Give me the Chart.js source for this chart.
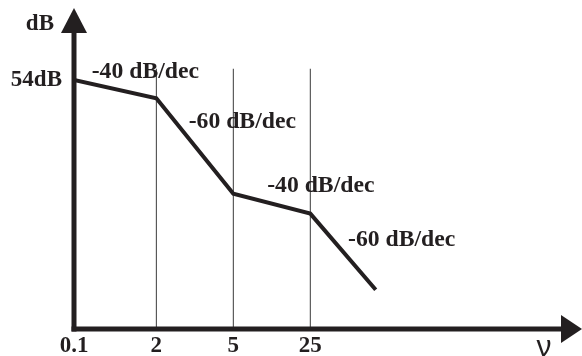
<!DOCTYPE html>
<html>
<head>
<meta charset="utf-8">
<script src="https://cdn.jsdelivr.net/npm/chart.js@4"></script>
<style>
  html, body { margin: 0; padding: 0; background: #fff; }
</style>
</head>
<body>
<canvas id="bode" width="582" height="356"></canvas>
<script>
'use strict';

// Asymptotic Bode magnitude sketch. Corners are evenly spread on the drawing,
// not on a true log axis, so freqPos holds where each corner sits on the sketch.
const freqLabels = ['0.1', '2', '5', '25'];
const freqPos = [0, 1.07, 2.07, 3.07];
const magDb = [54, 50, 29.3, 25];
const tailPos = 3.92;
const tailDb = 8.5;
const markerTopDb = 56.4;
const slopeLabels = ['-40 dB/dec', '-60 dB/dec', '-40 dB/dec', '-60 dB/dec'];
const yTickValues = [54];
const yTickLabels = ['54dB'];

const INK = '#231f20';
const SERIF = '"Liberation Serif", "Times New Roman", serif';

// where each slope label sits (left edge, vertical centre) in data units
const slopeLabelAt = [[0.23, 55.6], [1.49, 44.9], [2.51, 31.0], [3.56, 19.3]];

const magnitude = freqPos.map((x, i) => ({ x, y: magDb[i] }));
magnitude.push({ x: tailPos, y: tailDb });

const markers = freqPos.slice(1).map(x => ({
  label: 'corner',
  data: [{ x, y: 0 }, { x, y: markerTopDb }],
  borderColor: '#3a3a3a',
  borderWidth: 1,
  pointRadius: 0,
}));

// ── axes with arrow heads + text annotations ────────────────────────────────
const sketchPlugin = {
  id: 'sketch',
  afterDatasetsDraw(chart) {
    const { ctx, chartArea: a, scales } = chart;
    const xs = scales.x;
    const ys = scales.y;
    ctx.save();
    ctx.strokeStyle = INK;
    ctx.fillStyle = INK;
    ctx.lineWidth = 5;
    ctx.lineCap = 'butt';

    // y axis
    ctx.beginPath();
    ctx.moveTo(a.left, a.bottom + 2.5);
    ctx.lineTo(a.left, a.top + 26);
    ctx.stroke();
    ctx.beginPath();
    ctx.moveTo(a.left, a.top + 2);
    ctx.lineTo(a.left - 13, a.top + 27);
    ctx.lineTo(a.left + 13, a.top + 27);
    ctx.closePath();
    ctx.fill();

    // x axis
    ctx.beginPath();
    ctx.moveTo(a.left - 2.5, a.bottom);
    ctx.lineTo(a.right - 20, a.bottom);
    ctx.stroke();
    ctx.beginPath();
    ctx.moveTo(a.right, a.bottom);
    ctx.lineTo(a.right - 21, a.bottom - 14);
    ctx.lineTo(a.right - 21, a.bottom + 14);
    ctx.closePath();
    ctx.fill();

    // slope labels, slightly widened like the original lettering
    ctx.font = 'bold 23px ' + SERIF;
    ctx.textAlign = 'left';
    ctx.textBaseline = 'middle';
    slopeLabels.forEach((txt, i) => {
      const px = xs.getPixelForValue(slopeLabelAt[i][0]);
      const py = ys.getPixelForValue(slopeLabelAt[i][1]);
      ctx.save();
      ctx.translate(px, py);
      ctx.scale(1.03, 1);
      ctx.fillText(txt, 0, 0);
      ctx.restore();
    });

    // axis names
    ctx.textAlign = 'right';
    ctx.fillText('dB', a.left - 20, ys.getPixelForValue(66));
    ctx.font = '30px "Liberation Sans", sans-serif';
    ctx.textAlign = 'center';
    ctx.textBaseline = 'alphabetic';
    ctx.fillText('ν', a.right - 38, a.bottom + 27);
    ctx.restore();
  },
};

new Chart(document.getElementById('bode'), {
  type: 'line',
  data: {
    datasets: [{
      label: 'Magnitude',
      data: magnitude,
      borderColor: INK,
      borderWidth: 4,
      pointRadius: 0,
      tension: 0,
    }, ...markers],
  },
  options: {
    responsive: false,
    animation: false,
    layout: { autoPadding: false, padding: { left: 0, right: 0, top: 6, bottom: 0 } },
    plugins: {
      legend: { display: false },
      tooltip: { enabled: false },
    },
    scales: {
      x: {
        type: 'linear',
        min: 0,
        max: 6.6,
        grid: { display: false, drawTicks: false },
        border: { display: false },
        afterBuildTicks: (scale) => { scale.ticks = freqPos.map(v => ({ value: v })); },
        afterFit: (scale) => {
          scale.height = 27;
          scale.paddingLeft = 0;
          scale.paddingRight = 0;
        },
        ticks: {
          padding: 3,
          maxRotation: 0,
          autoSkip: false,
          color: INK,
          font: { family: SERIF, size: 23, weight: 'bold' },
          callback: (v, i) => freqLabels[i],
        },
      },
      y: {
        type: 'linear',
        min: 0,
        max: 70,
        grid: { display: false, drawTicks: false },
        border: { display: false },
        afterBuildTicks: (scale) => { scale.ticks = yTickValues.map(v => ({ value: v })); },
        afterFit: (scale) => {
          scale.width = 74;
          scale.paddingTop = 0;
          scale.paddingBottom = 0;
        },
        ticks: {
          padding: 12,
          autoSkip: false,
          color: INK,
          font: { family: SERIF, size: 23, weight: 'bold' },
          callback: (v, i) => yTickLabels[i],
        },
      },
    },
  },
  plugins: [sketchPlugin],
});
</script>
</body>
</html>
